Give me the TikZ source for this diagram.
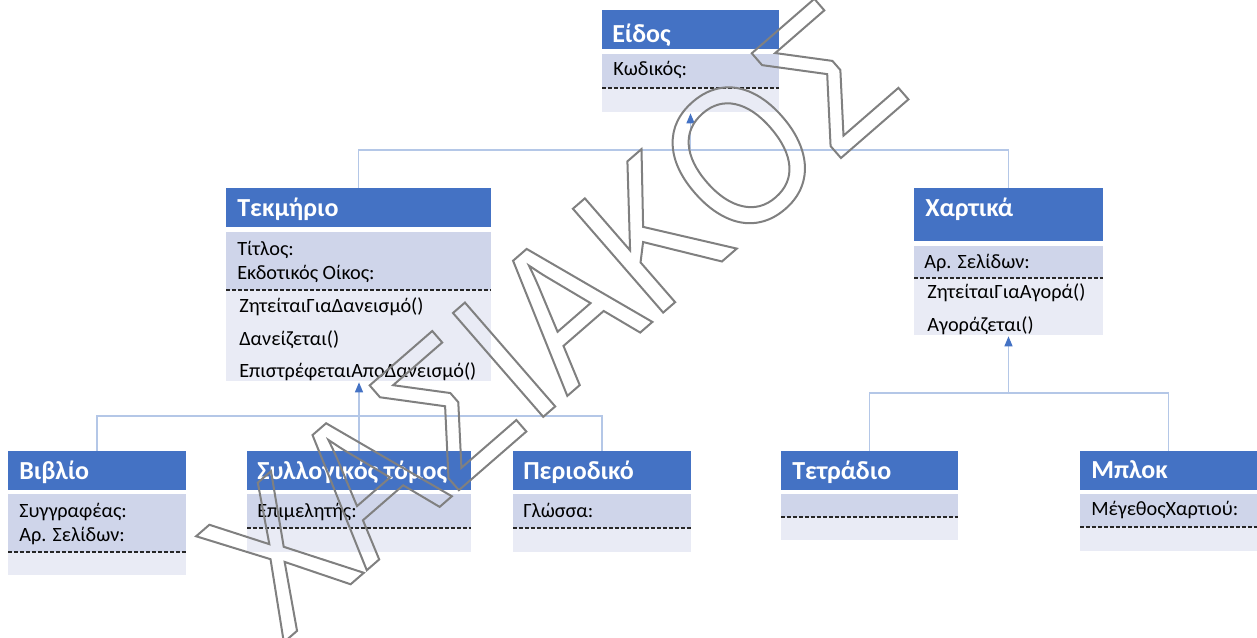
\documentclass[tikz,border=0pt]{standalone}
\usepackage{fontspec}
\setmainfont{Carlito}
\newfontfamily\wmfont[FakeStretch=0.85]{Liberation Sans}
\usetikzlibrary{fit,arrows.meta}
\definecolor{hdrblue}{HTML}{4472C4}
\definecolor{attrfill}{HTML}{CFD5EA}
\definecolor{methfill}{HTML}{E9EBF5}
\definecolor{connblue}{HTML}{B4C7E7}
\definecolor{wmgray}{HTML}{808080}
\newcommand\outlinetext[1]{\special{pdf:literal direct 1 Tr 1.5 w}#1\special{pdf:literal direct 0 Tr}}
\tikzset{
 box/.style={inner sep=0pt, outer sep=0pt, draw=none},
 hdr/.style={box, fill=hdrblue},
 attr/.style={box, fill=attrfill},
 meth/.style={box, fill=methfill},
 title/.style={font=\fontsize{19.5}{21}\selectfont\bfseries, text=white, inner sep=0pt, anchor=base west},
 item/.style={font=\fontsize{15.2}{17}\selectfont, text=black, inner sep=0pt, anchor=base west},
 sepline/.style={draw=black!85, line width=1pt, dash pattern=on 3pt off 1.5pt},
 conn/.style={draw=connblue, line width=1pt},
 inh/.style={conn, -{Triangle[width=6pt,length=7.5pt,color=hdrblue]}, shorten >=1pt},
 wm/.style={font=\wmfont\fontsize{150}{150}\selectfont, text=wmgray, inner sep=0pt},
}
\newcommand\umlbox[8]{% name, x1, x2, yh1, yh2, ya1, ya2, ym2
  \node[hdr, fit={(#2,#4)(#3,#5)}] (#1-h) {};
  \node[attr, fit={(#2,#6)(#3,#7)}] (#1-a) {};
  \node[meth, fit={(#2,#7)(#3,#8)}] (#1-m) {};
  \draw[sepline] (#1-a.south west) -- (#1-a.south east);
}
\begin{document}
\begin{tikzpicture}[x=0.75pt, y=-0.75pt]
\useasboundingbox (0,0) rectangle (1257,638);

% class boxes
\umlbox{eid}{602}{779}{10}{49}{54}{88}{112}
\umlbox{tek}{226}{491}{188}{227}{232}{290}{381}
\umlbox{xar}{914}{1103}{188}{241}{246}{278}{335}
\umlbox{bib}{8}{186}{451}{490}{494}{552}{575}
\umlbox{syl}{247}{471}{451}{490}{494}{528}{552}
\umlbox{per}{513}{691}{451}{490}{494}{528}{552}
\umlbox{tet}{781}{958}{451}{490}{494}{517}{540}
\umlbox{mpl}{1080}{1257}{451}{490}{494}{527}{551}

% texts
\node[title] (eid-t) at (612,43) {Είδος};
\node[item] (eid-1) at (613,76) {Κωδικός:};

\node[title] (tek-t) at (237,217) {Τεκμήριο};
\node[item] (tek-1) at (237,256) {Τίτλος:};
\node[item] (tek-2) at (237,279) {Εκδοτικός Οίκος:};
\node[item] (tek-3) at (239,312) {ΖητείταιΓιαΔανεισμό()};
\node[item] (tek-4) at (239,345) {Δανείζεται()};
\node[item] (tek-5) at (239,377) {ΕπιστρέφεταιΑποΔανεισμό()};

\node[title] (xar-t) at (925,217) {Χαρτικά};
\node[item] (xar-1) at (924,268) {Αρ. Σελίδων:};
\node[item] (xar-2) at (927,298) {ΖητείταιΓιαΑγορά()};
\node[item] (xar-3) at (927,331) {Αγοράζεται()};

\node[title] (bib-t) at (19,479) {Βιβλίο};
\node[item] (bib-1) at (19,517) {Συγγραφέας:};
\node[item] (bib-2) at (19,541) {Αρ. Σελίδων:};

\node[title] (syl-t) at (257,479) {Συλλογικός τόμος};
\node[item] (syl-1) at (257,517) {Επιμελητής:};

\node[title] (per-t) at (523,479) {Περιοδικό};
\node[item] (per-1) at (523,517) {Γλώσσα:};

\node[title] (tet-t) at (792,479) {Τετράδιο};

\node[title] (mpl-t) at (1091,478) {Μπλοκ};
\node[item] (mpl-1) at (1091,515) {ΜέγεθοςΧαρτιού:};

% connectors
\coordinate (j1) at (690.5,150);
\draw[conn] (tek-h.north) |- (j1) -| (xar-h.north);
\draw[inh] (j1) -- (eid-m.south);

\coordinate (j2) at (359,416);
\draw[conn] (bib-h.north) |- (j2) -| (per-h.north);
\draw[inh] (syl-h.north) -- (syl-h.north |- tek-m.south);

\coordinate (j3) at (1008.5,393);
\draw[conn] (tet-h.north) |- (j3) -| (mpl-h.north);
\draw[inh] (j3) -- (xar-m.south);

% watermark
\node[wm, rotate=41] (wm) at (552,318) {\outlinetext{ΧΑΣΙΑΚΟΣ}};
\end{tikzpicture}
\end{document}
